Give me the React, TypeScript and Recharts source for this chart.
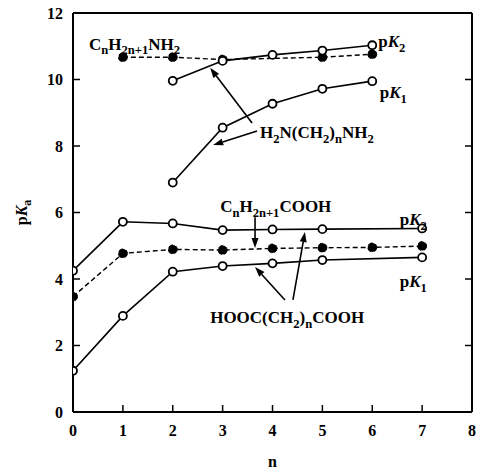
import React from 'react';
import { LineChart, Line, XAxis, YAxis, ReferenceLine, ReferenceDot } from 'recharts';

const xTicks = [0, 1, 2, 3, 4, 5, 6, 7, 8];
const xTopTicks = [1, 2, 3, 4, 5, 6, 7];
const yTicks = [0, 2, 4, 6, 8, 10, 12];
const yRightTicks = [2, 4, 6, 8, 10];

// Monoamine CnH2n+1NH2 (filled, dashed)
const amineMonoN = [1, 2, 3, 5, 6];
const amineMonoPK = [10.67, 10.67, 10.6, 10.67, 10.76];
// Diamine H2N(CH2)nNH2 pK2
const diaminePK2N = [2, 3, 4, 5, 6];
const diaminePK2 = [9.96, 10.56, 10.74, 10.87, 11.03];
// Diamine pK1
const diaminePK1N = [2, 3, 4, 5, 6];
const diaminePK1 = [6.9, 8.55, 9.27, 9.72, 9.95];
// Monocarboxylic acid CnH2n+1COOH (filled, dashed)
const acidMonoN = [0, 1, 2, 3, 4, 5, 6, 7];
const acidMonoPK = [3.47, 4.77, 4.89, 4.87, 4.92, 4.94, 4.95, 4.99];
// Dicarboxylic acid HOOC(CH2)nCOOH pK2
const diacidPK2N = [0, 1, 2, 3, 4, 5, 7];
const diacidPK2 = [4.25, 5.72, 5.67, 5.47, 5.49, 5.5, 5.52];
// Dicarboxylic acid pK1
const diacidPK1N = [0, 1, 2, 3, 4, 5, 7];
const diacidPK1 = [1.24, 2.89, 4.22, 4.39, 4.47, 4.57, 4.65];

const toRows = (ns: number[], vs: number[]) => ns.map((n, i) => ({ n, pk: vs[i] }));

const FONT = "'Liberation Serif', 'Times New Roman', Times, serif";

type Seg = [string, 'n' | 's' | 'i'];

function Formula({ x, y, segs, size = 17, anchor = 'start' }: { x: number; y: number; segs: Seg[]; size?: number; anchor?: string }) {
  let shift = 0;
  const parts = segs.map(([t, k], i) => {
    const want = k === 's' ? size * 0.28 : 0;
    const dy = want - shift;
    shift = want;
    return (
      <tspan key={i} dy={dy} style={{ fontSize: k === 's' ? size * 0.74 : size, fontStyle: k === 'i' ? 'italic' : 'normal' }}>
        {t}
      </tspan>
    );
  });
  return (
    <text x={x} y={y} fill="#000" textAnchor={anchor as any} style={{ fontFamily: FONT, fontWeight: 'bold', fontSize: size }}>
      {parts}
    </text>
  );
}

const labels: { x: number; y: number; segs: Seg[] }[] = [
  { x: 0.32, y: 10.9, segs: [['C', 'n'], ['n', 's'], ['H', 'n'], ['2n+1', 's'], ['NH', 'n'], ['2', 's']] },
  { x: 6.12, y: 10.98, segs: [['p', 'n'], ['K', 'i'], ['2', 's']] },
  { x: 6.15, y: 9.44, segs: [['p', 'n'], ['K', 'i'], ['1', 's']] },
  { x: 3.75, y: 8.24, segs: [['H', 'n'], ['2', 's'], ['N(CH', 'n'], ['2', 's'], [')', 'n'], ['n', 's'], ['NH', 'n'], ['2', 's']] },
  { x: 2.95, y: 6.02, segs: [['C', 'n'], ['n', 's'], ['H', 'n'], ['2n+1', 's'], ['COOH', 'n']] },
  { x: 6.55, y: 5.62, segs: [['p', 'n'], ['K', 'i'], ['2', 's']] },
  { x: 6.55, y: 3.76, segs: [['p', 'n'], ['K', 'i'], ['1', 's']] },
  { x: 2.75, y: 2.68, segs: [['HOOC(CH', 'n'], ['2', 's'], [')', 'n'], ['n', 's'], ['COOH', 'n']] },
];

// arrows: start point -> tip
const arrows: [number, number, number, number][] = [
  [3.59, 8.69, 2.75, 10.35],
  [3.69, 8.45, 2.81, 8.03],
  [3.65, 5.86, 3.65, 4.93],
  [4.25, 3.37, 3.65, 4.36],
  [4.41, 3.37, 4.65, 5.41],
];

const ArrowShape = (p: any) => {
  const { x1, y1, x2, y2 } = p;
  const dx = x2 - x1;
  const dy = y2 - y1;
  const len = Math.sqrt(dx * dx + dy * dy) || 1;
  const ux = dx / len;
  const uy = dy / len;
  const hl = 10;
  const hw = 3.5;
  const bx = x2 - ux * hl;
  const by = y2 - uy * hl;
  const pts = `${x2},${y2} ${bx - uy * hw},${by + ux * hw} ${bx + uy * hw},${by - ux * hw}`;
  return (
    <g>
      <line x1={x1} y1={y1} x2={bx} y2={by} stroke="#000" strokeWidth={1.6} />
      <polygon points={pts} fill="#000" />
    </g>
  );
};

const tickStyle = { fontSize: 16, fontWeight: 'bold', fontFamily: FONT, fill: '#000', style: { fontFamily: FONT, fontWeight: 'bold' } };

const openDot = { r: 4, fill: '#fff', stroke: '#000', strokeWidth: 1.8 };
const filledDot = { r: 4.5, fill: '#000', stroke: '#000', strokeWidth: 1 };

const YLabel = (props: any) => {
  const vb = props.viewBox || {};
  const cx = 22;
  const cy = vb.y + vb.height / 2;
  return (
    <g transform={`translate(${cx},${cy}) rotate(-90)`}>
      <Formula x={0} y={5} anchor="middle" size={16} segs={[['p', 'n'], ['K', 'i'], ['a', 's']]} />
    </g>
  );
};

const XLabel = (props: any) => {
  const vb = props.viewBox || {};
  return (
    <text x={vb.x + vb.width / 2} y={467} textAnchor="middle" fill="#000" style={{ fontFamily: FONT, fontWeight: 'bold', fontSize: 16 }}>
      n
    </text>
  );
};

export default function App() {
  return (
    <div style={{ position: 'absolute', left: 0, top: 0, background: '#fff' }}>
      <LineChart width={485} height={471} margin={{ top: 0, right: 0, bottom: 0, left: 0 }}>
        <XAxis
          xAxisId="b"
          dataKey="n"
          type="number"
          domain={[0, 8]}
          ticks={xTicks}
          allowDataOverflow
          height={59}
          tickSize={-7}
          tickMargin={20}
          tick={tickStyle}
          axisLine={{ stroke: '#000', strokeWidth: 2 }}
          tickLine={{ stroke: '#000', strokeWidth: 1.5 }}
          label={<XLabel />}
        />
        <XAxis
          xAxisId="t"
          orientation="top"
          type="number"
          domain={[0, 8]}
          ticks={xTopTicks}
          allowDataOverflow
          height={13}
          tickSize={-7}
          tick={() => <g />}
          axisLine={{ stroke: '#000', strokeWidth: 2 }}
          tickLine={{ stroke: '#000', strokeWidth: 1.5 }}
        />
        <YAxis
          yAxisId="l"
          type="number"
          domain={[0, 12]}
          ticks={yTicks}
          allowDataOverflow
          width={73}
          tickSize={-7}
          tickMargin={17}
          tick={tickStyle}
          axisLine={{ stroke: '#000', strokeWidth: 2 }}
          tickLine={{ stroke: '#000', strokeWidth: 1.5 }}
          label={<YLabel />}
        />
        <YAxis
          yAxisId="r"
          orientation="right"
          type="number"
          domain={[0, 12]}
          ticks={yRightTicks}
          allowDataOverflow
          width={13}
          tickSize={-7}
          tick={() => <g />}
          axisLine={{ stroke: '#000', strokeWidth: 2 }}
          tickLine={{ stroke: '#000', strokeWidth: 1.5 }}
        />

        <Line xAxisId="b" yAxisId="l" data={toRows(amineMonoN, amineMonoPK)} dataKey="pk" stroke="#000" strokeWidth={1.4} strokeDasharray="5 3" dot={filledDot} isAnimationActive={false} />
        <Line xAxisId="b" yAxisId="l" data={toRows(acidMonoN, acidMonoPK)} dataKey="pk" stroke="#000" strokeWidth={1.4} strokeDasharray="5 3" dot={filledDot} isAnimationActive={false} />
        <Line xAxisId="b" yAxisId="l" data={toRows(diaminePK2N, diaminePK2)} dataKey="pk" stroke="#000" strokeWidth={1.6} dot={openDot} isAnimationActive={false} />
        <Line xAxisId="b" yAxisId="l" data={toRows(diaminePK1N, diaminePK1)} dataKey="pk" stroke="#000" strokeWidth={1.6} dot={openDot} isAnimationActive={false} />
        <Line xAxisId="b" yAxisId="l" data={toRows(diacidPK2N, diacidPK2)} dataKey="pk" stroke="#000" strokeWidth={1.6} dot={openDot} isAnimationActive={false} />
        <Line xAxisId="b" yAxisId="l" data={toRows(diacidPK1N, diacidPK1)} dataKey="pk" stroke="#000" strokeWidth={1.6} dot={openDot} isAnimationActive={false} />

        {arrows.map(([sx, sy, tx, ty], i) => (
          <ReferenceLine
            key={'a' + i}
            xAxisId="b"
            yAxisId="l"
            segment={[{ x: sx, y: sy }, { x: tx, y: ty }]}
            ifOverflow="visible"
            shape={ArrowShape}
          />
        ))}
        {labels.map((lb, i) => (
          <ReferenceDot
            key={'l' + i}
            xAxisId="b"
            yAxisId="l"
            x={lb.x}
            y={lb.y}
            r={0}
            ifOverflow="visible"
            shape={(p: any) => <Formula x={p.cx} y={p.cy} segs={lb.segs} />}
          />
        ))}
      </LineChart>
    </div>
  );
}
